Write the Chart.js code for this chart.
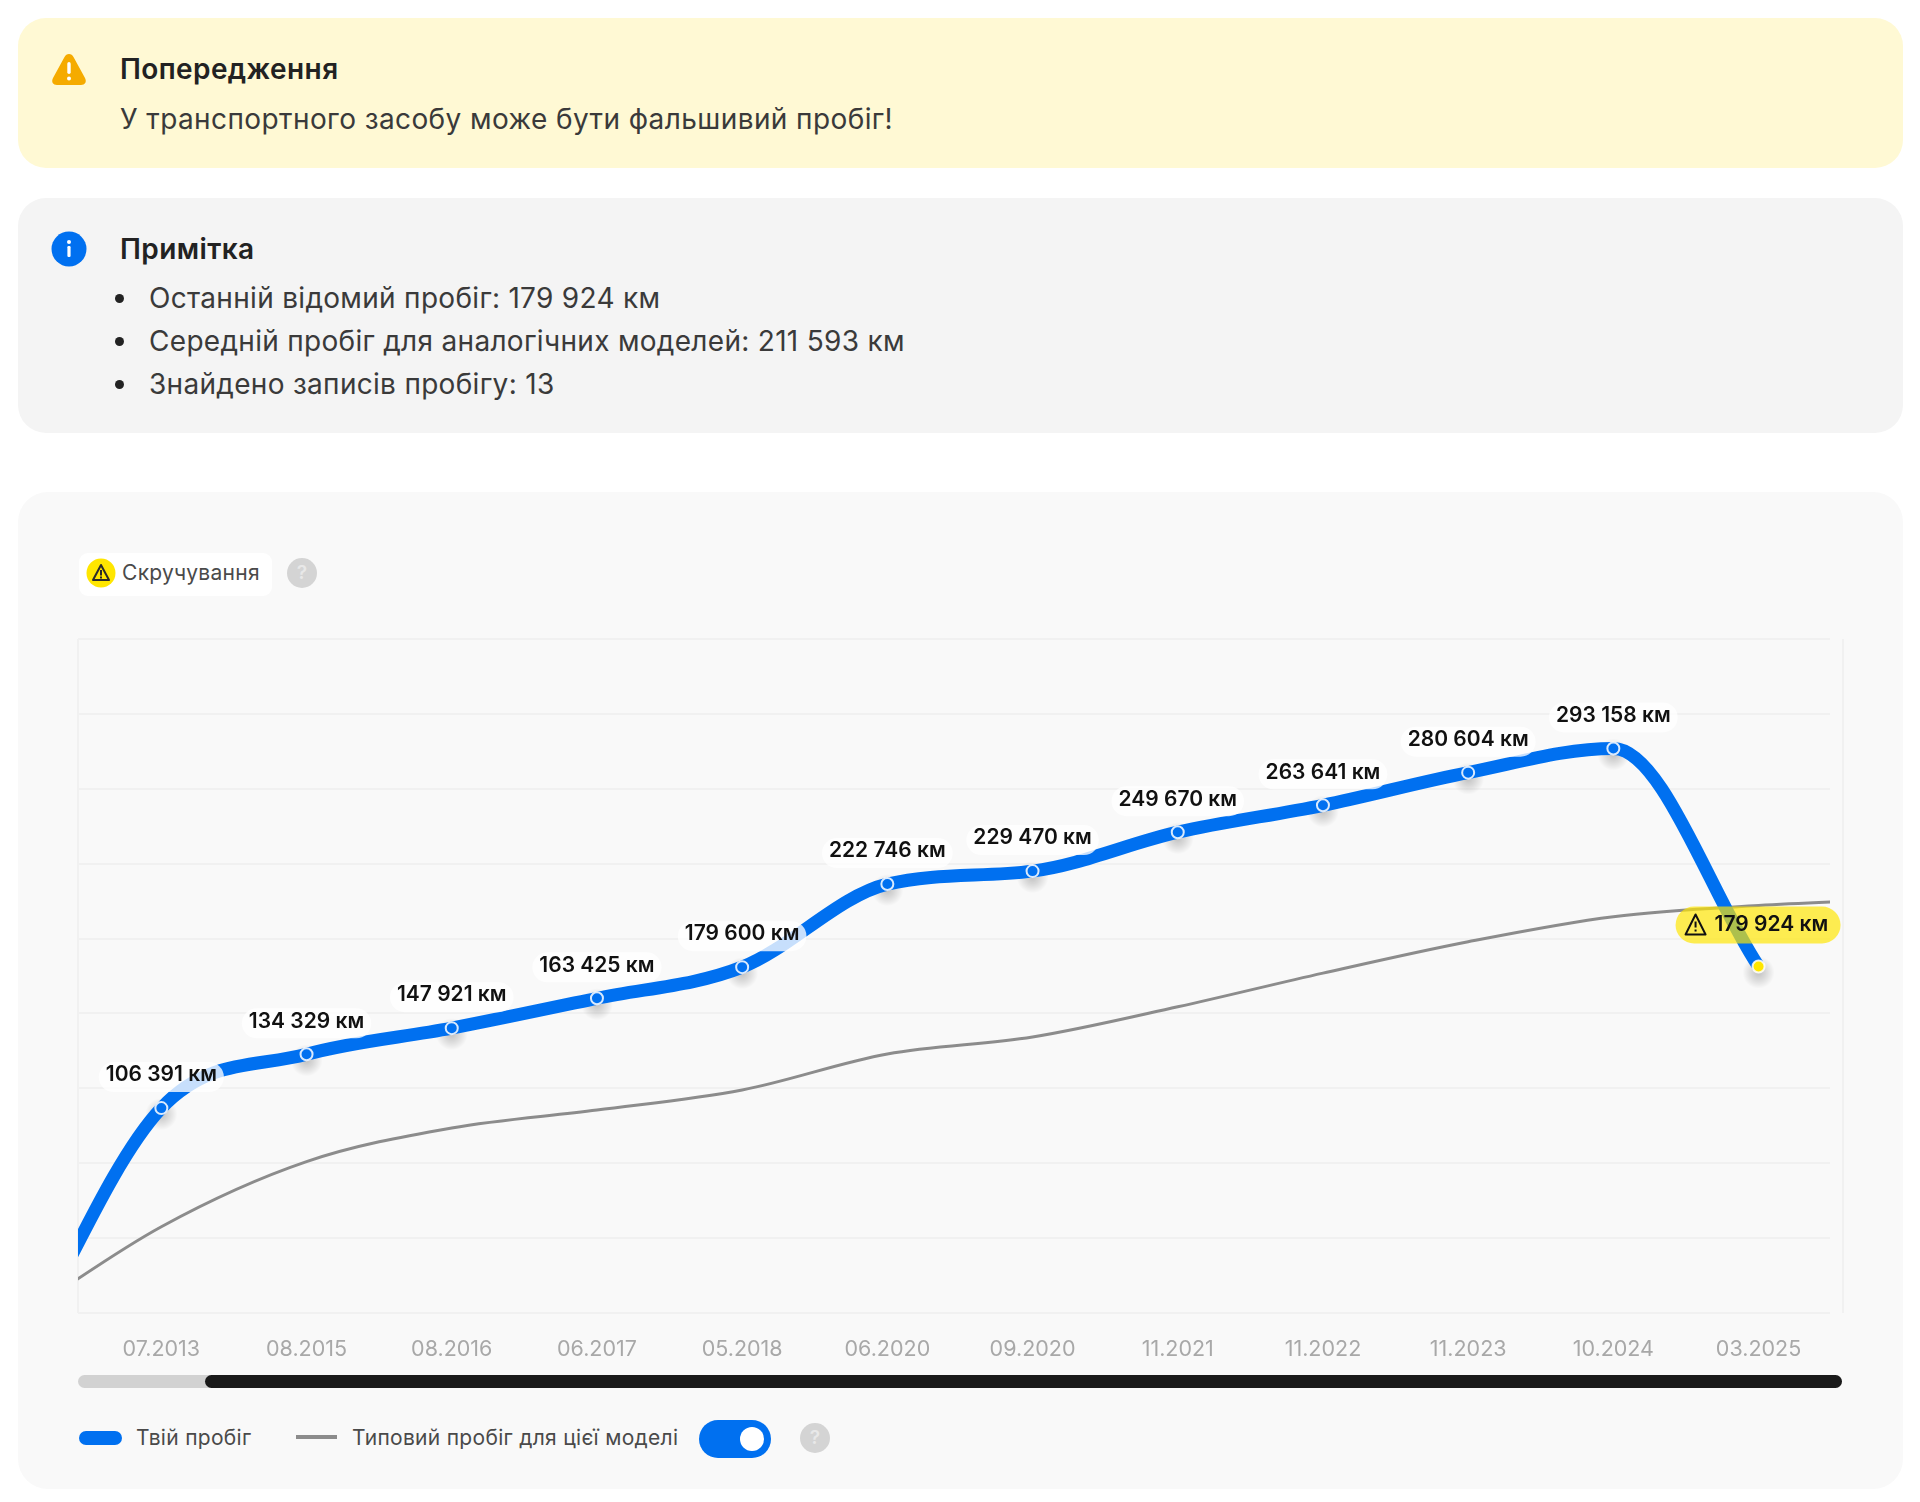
<!DOCTYPE html>
<html lang="uk">
<head>
<meta charset="utf-8">
<title>Пробіг</title>
<script src="https://cdn.jsdelivr.net/npm/chart.js@4"></script>
<style>
    * { box-sizing: border-box; }
    html, body { margin: 0; padding: 0; background: #fff; }
    body { position: relative; width: 1920px; height: 1502px; overflow: hidden; font-family: Inter, sans-serif; color: #3a3a3a; }
    .abs { position: absolute; white-space: nowrap; line-height: 1; }
    .card { position: absolute; left: 18px; width: 1885px; }
    .warn { top: 18px; height: 150px; background: #fff9d4; border-radius: 28px; }
    .note { top: 198px; height: 235px; background: #f4f4f4; border-radius: 28px; }
    .chart-card { top: 492px; height: 997px; background: #f9f9f9; border-radius: 30px; }
    .title { font-size: 28px; font-weight: 600; color: #222; letter-spacing: 0.4px; }
    .body { font-size: 28px; letter-spacing: 0.4px; }
    .body.item { letter-spacing: 0.3px; }
    .bullet { position: absolute; left: 115px; width: 9px; height: 9px; border-radius: 50%; background: #222; }
    .help { position: absolute; width: 30px; height: 30px; border-radius: 50%; background: #d4d4d4; color: #e8e8e8; font-size: 19px; font-weight: 600; text-align: center; line-height: 30px; }
    #mileage-chart { position: absolute; left: 18px; top: 492px; }
    .track { position: absolute; left: 78px; top: 1375px; width: 1764px; height: 13px; border-radius: 7px; background: #d2d2d2; }
    .thumb { position: absolute; left: 205px; top: 1375px; width: 1637px; height: 13px; border-radius: 7px; background: #1a1a1a; }
    .legend-text { font-size: 21px; letter-spacing: 0.3px; color: #4a4a4a; }
</style>
</head>
<body>
<div class="card warn"></div>
<svg class="abs" style="left:50px;top:51px" width="38" height="36" viewBox="0 0 38 36">
    <path d="M19 3 C21 3 22.5 4 23.5 6 L35 27 C37 31 35 34 31 34 L7 34 C3 34 1 31 3 27 L14.5 6 C15.5 4 17 3 19 3Z" fill="#f5ab00"/>
    <rect x="17.3" y="11" width="3.4" height="12" rx="1.7" fill="#fff"/>
    <circle cx="19" cy="27.5" r="2" fill="#fff"/>
</svg>
<div class="abs title" style="left:120px;top:55px">Попередження</div>
<div class="abs body" style="left:120px;top:105px">У транспортного засобу може бути фальшивий пробіг!</div>

<div class="card note"></div>
<svg class="abs" style="left:51px;top:231px" width="36" height="36" viewBox="0 0 36 36">
    <circle cx="18" cy="18" r="17.5" fill="#0070f0"/>
    <rect x="16.4" y="15" width="3.2" height="11" rx="1.2" fill="#fff"/>
    <circle cx="18" cy="11" r="2" fill="#fff"/>
</svg>
<div class="abs title" style="left:120px;top:235px">Примітка</div>
<div class="bullet" style="top:294px"></div>
<div class="abs body item" style="left:149px;top:284px">Останній відомий пробіг: 179 924 км</div>
<div class="bullet" style="top:337px"></div>
<div class="abs body item" style="left:149px;top:327px">Середній пробіг для аналогічних моделей: 211 593 км</div>
<div class="bullet" style="top:380px"></div>
<div class="abs body item" style="left:149px;top:370px">Знайдено записів пробігу: 13</div>

<div class="card chart-card"></div>
<div class="abs" style="left:79px;top:553px;width:193px;height:43px;background:#fff;border-radius:9px"></div>
<svg class="abs" style="left:86px;top:558px" width="30" height="30" viewBox="0 0 30 30">
    <circle cx="15" cy="15" r="14.5" fill="#ffe600"/>
    <path d="M15 7 L23 22 L7 22 Z" fill="none" stroke="#2a2a2a" stroke-width="2" stroke-linejoin="round"/>
    <rect x="14" y="12" width="2" height="5.5" fill="#2a2a2a"/>
    <rect x="14" y="18.5" width="2" height="2" fill="#2a2a2a"/>
</svg>
<div class="abs legend-text" style="left:122px;top:562px">Скручування</div>
<div class="help" style="left:287px;top:558px">?</div>

<canvas id="mileage-chart" width="1885" height="908"></canvas>

<div class="track"></div>
<div class="thumb"></div>

<div class="abs" style="left:79px;top:1431px;width:43px;height:14px;border-radius:7px;background:#0070f0"></div>
<div class="abs legend-text" style="left:136px;top:1427px">Твій пробіг</div>
<div class="abs" style="left:296px;top:1435px;width:41px;height:4px;background:#8c8c8c"></div>
<div class="abs legend-text" style="left:352px;top:1427px">Типовий пробіг для цієї моделі</div>
<div class="abs" style="left:699px;top:1420px;width:72px;height:38px;border-radius:19px;background:#0070f0"></div>
<div class="abs" style="left:740px;top:1427px;width:24px;height:24px;border-radius:50%;background:#fff"></div>
<div class="help" style="left:800px;top:1423px">?</div>

<script>
// first record is scrolled out of view on the left, last typical value on the right.
// the off-screen values are only estimated from how the curves enter the plot
const xLabels = ['', '07.2013', '08.2015', '08.2016', '06.2017', '05.2018', '06.2020', '09.2020', '11.2021', '11.2022', '11.2023', '10.2024', '03.2025'];
const mileageValues = [-25000, 106391, 134329, 147921, 163425, 179600, 222746, 229470, 249670, 263641, 280604, 293158, 179924];
const typicalValues = [-3600, 44800, 78600, 96100, 105400, 115800, 134500, 143300, 159000, 176500, 192800, 205800, 211593, 215000];
const yTicks = [0, 38889, 77778, 116667, 155556, 194444, 233333, 272222, 311111, 350000];

const BLUE = '#0070f0';
const YELLOW = '#ffe600';
const LABEL_FONT = '600 21px Inter';

function formatKm(value) {
    return String(value).replace(/\B(?=(\d{3})+$)/g, ' ') + ' км';
}

function pill(ctx, x, y, w, h) {
    ctx.beginPath();
    ctx.roundRect(x, y, w, h, h / 2);
    ctx.fill();
}

const framePlugin = {
    id: 'frame',
    beforeDatasetsDraw(chart) {
        const { ctx, chartArea } = chart;
        ctx.save();
        ctx.strokeStyle = '#f1f1f1';
        ctx.lineWidth = 2;
        ctx.beginPath();
        ctx.moveTo(chartArea.left, chartArea.top);
        ctx.lineTo(chartArea.left, chartArea.bottom);
        ctx.moveTo(chartArea.right + 13, chartArea.top);
        ctx.lineTo(chartArea.right + 13, chartArea.bottom);
        ctx.stroke();
        // soft shadow under each point
        chart.getDatasetMeta(0).data.forEach((pt, i) => {
            if (i === 0) return;
            const g = ctx.createRadialGradient(pt.x, pt.y + 6, 2, pt.x, pt.y + 6, 16);
            g.addColorStop(0, 'rgba(0,0,0,0.2)');
            g.addColorStop(1, 'rgba(0,0,0,0)');
            ctx.fillStyle = g;
            ctx.fillRect(pt.x - 16, pt.y - 10, 32, 32);
        });
        ctx.restore();
    }
};

const labelPlugin = {
    id: 'pointLabels',
    afterDatasetsDraw(chart) {
        const { ctx } = chart;
        const points = chart.getDatasetMeta(0).data;
        const last = points.length - 1;
        ctx.save();
        ctx.font = LABEL_FONT;
        ctx.textBaseline = 'middle';
        points.forEach((pt, i) => {
            if (i === 0) return;
            const text = formatKm(mileageValues[i]);
            const w = ctx.measureText(text).width;
            if (i === last) {
                ctx.fillStyle = 'rgba(255,230,0,0.68)';
                pill(ctx, pt.x - 83, pt.y - 60, 165, 37);
                ctx.fillStyle = '#111';
                ctx.textAlign = 'left';
                ctx.fillText(text, pt.x - 44, pt.y - 42);
                const ix = pt.x - 63, iy = pt.y - 42;
                ctx.strokeStyle = '#111';
                ctx.lineWidth = 2;
                ctx.lineJoin = 'round';
                ctx.beginPath();
                ctx.moveTo(ix, iy - 10);
                ctx.lineTo(ix + 10, iy + 10);
                ctx.lineTo(ix - 10, iy + 10);
                ctx.closePath();
                ctx.stroke();
                ctx.fillRect(ix - 1, iy - 3, 2, 6);
                ctx.fillRect(ix - 1, iy + 5, 2, 2);
            } else {
                ctx.fillStyle = 'rgba(255,255,255,0.78)';
                pill(ctx, pt.x - w / 2 - 7, pt.y - 46, w + 14, 30);
                ctx.fillStyle = '#111';
                ctx.textAlign = 'center';
                ctx.fillText(text, pt.x, pt.y - 33);
            }
        });
        ctx.restore();
    }
};

new Chart(document.getElementById('mileage-chart'), {
    type: 'line',
    data: {
        datasets: [
            {
                label: 'Твій пробіг',
                data: mileageValues.map((y, x) => ({ x, y })),
                borderColor: BLUE,
                borderWidth: 13,
                cubicInterpolationMode: 'monotone',
                clip: 0,
                pointRadius: 6,
                pointBorderWidth: 2,
                pointBorderColor: 'rgba(255,255,255,0.85)',
                pointBackgroundColor: mileageValues.map((v, i) => (i === mileageValues.length - 1 ? YELLOW : BLUE)),
                order: 1
            },
            {
                label: 'Типовий пробіг для цієї моделі',
                data: typicalValues.map((y, x) => ({ x, y })),
                borderColor: '#8c8c8c',
                borderWidth: 3,
                cubicInterpolationMode: 'monotone',
                clip: 0,
                pointRadius: 0,
                order: 2
            }
        ]
    },
    options: {
        responsive: false,
        animation: false,
        layout: { padding: { left: 60, right: 73, top: 147, bottom: 27 } },
        plugins: { legend: { display: false }, tooltip: { enabled: false } },
        scales: {
            x: {
                type: 'linear',
                min: 0.426,
                max: 12.492,
                grid: { display: false },
                border: { display: false },
                afterFit(axis) { axis.height = 60; },
                ticks: {
                    stepSize: 1,
                    includeBounds: false,
                    autoSkip: false,
                    maxRotation: 0,
                    padding: 16,
                    color: '#a8a8a8',
                    font: { family: 'Inter', size: 21.5 },
                    callback: value => xLabels[value]
                }
            },
            y: {
                min: 0,
                max: 350000,
                afterBuildTicks(axis) { axis.ticks = yTicks.map(value => ({ value })); },
                afterFit(axis) { axis.width = 0; },
                grid: { color: '#f1f1f1', lineWidth: 2, drawTicks: false },
                border: { display: false },
                ticks: { display: false }
            }
        }
    },
    plugins: [framePlugin, labelPlugin]
});
</script>
</body>
</html>
